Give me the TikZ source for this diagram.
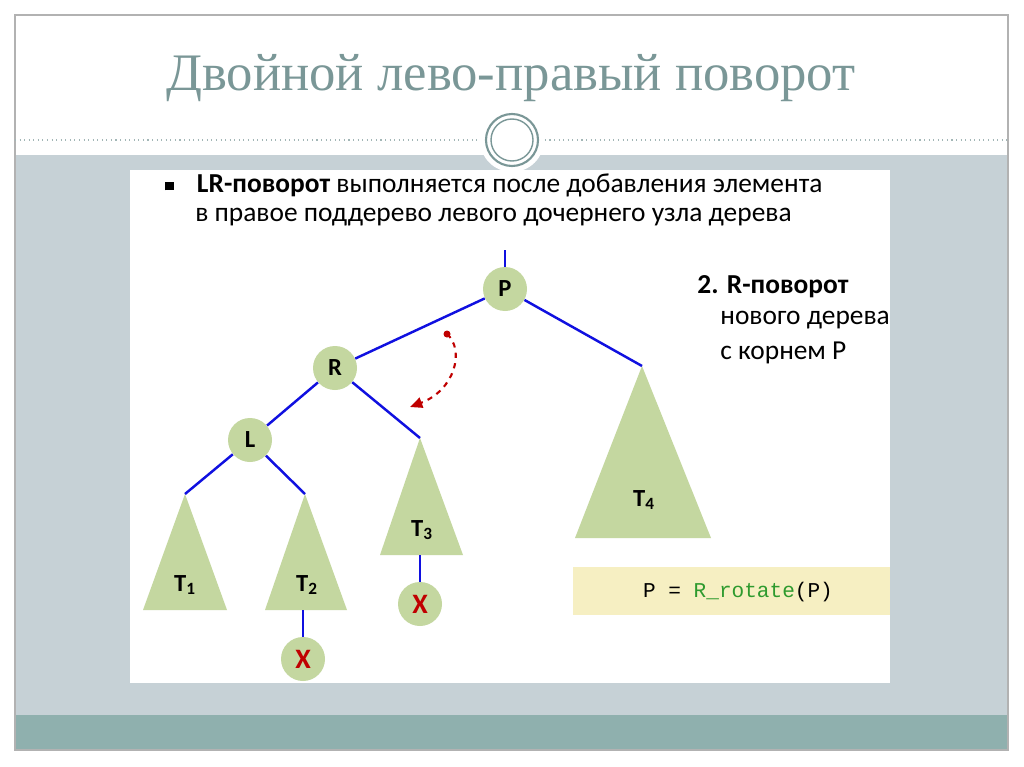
\documentclass[tikz,border=0pt]{standalone}
\usepackage{fontspec}
\setmainfont{Carlito}
\newfontfamily\titlefont{Liberation Serif}
\newfontfamily\codefont{Liberation Mono}
\usetikzlibrary{arrows.meta}
\definecolor{band}{HTML}{C6D1D6}
\definecolor{teal}{HTML}{8FB0AE}
\definecolor{titlec}{HTML}{7A9797}
\definecolor{leaf}{HTML}{C4D7A0}
\definecolor{edge}{HTML}{1010E0}
\definecolor{darkred}{HTML}{C00000}
\definecolor{codebg}{HTML}{F6EFC2}
\definecolor{codegreen}{HTML}{2E9A2E}
\begin{document}
\begin{tikzpicture}[x=0.02cm,y=-0.02cm,
  circ/.style={circle,fill=leaf,minimum size=44*0.02cm,inner sep=0pt,font=\fontsize{14}{16}\selectfont\bfseries},
  tri/.style={fill=leaf},
  lnk/.style={edge,line width=1.4pt},
  tlab/.style={font=\fontsize{14}{16}\selectfont\bfseries},
  body/.style={font=\fontsize{15.6}{18}\selectfont,anchor=west,inner sep=0pt}]
\useasboundingbox (0,0) rectangle (1024,767);
\fill[white] (0,0) rectangle (1024,767);
\fill[band] (15,155) rectangle (1008,715);
\fill[teal] (15,715) rectangle (1008,750);
\draw[gray!60,line width=0.8pt] (15,15) rectangle (1008,750);
\draw[titlec!70,dotted,line width=0.6pt] (15,140) -- (1008,140);
\node[font=\titlefont\fontsize{30}{34}\selectfont,text=titlec] (title) at (511,78) {Двойной лево-правый поворот};
\fill[white] (512,140) circle (32);
\draw[titlec,line width=1.2pt] (512,140) circle (26);
\draw[titlec,line width=0.8pt] (512,140) circle (21);
\fill[white] (130,170) rectangle (890,683);
% text
\node[body] (b1) at (165,185) {\rule[1pt]{5pt}{5pt}\hspace{13pt}\textbf{LR-поворот} выполняется после добавления элемента};
\node[body] (b2) at (195,217) {в правое поддерево левого дочернего узла дерева};
\node[body] (s1) at (697,287) {\textbf{2. R-поворот}};
\node[body] (s2) at (720,320) {нового дерева};
\node[body] (s3) at (720,353) {с корнем P};
% triangles
\coordinate (a1) at (185,494); \coordinate (a2) at (305,494);
\coordinate (a3) at (420,438); \coordinate (a4) at (642,366);
\fill[tri] (a1) -- (143,610) -- (227,610) -- cycle;
\fill[tri] (a2) -- (265,610) -- (347,610) -- cycle;
\fill[tri] (a3) -- (380,555) -- (463,555) -- cycle;
\fill[tri] (a4) -- (575,538) -- (711,538) -- cycle;
\node[tlab] (t1) at (185,585) {T\textsubscript{1}};
\node[tlab] (t2) at (307,585) {T\textsubscript{2}};
\node[tlab] (t3) at (422,530) {T\textsubscript{3}};
\node[tlab] (t4) at (644,500) {T\textsubscript{4}};
% nodes
\node[circ] (P) at (505,289) {P};
\node[circ] (R) at (335,368) {R};
\node[circ] (L) at (250,440) {L};
\node[circ,text=darkred,font=\fontsize{16}{18}\selectfont\bfseries] (X1) at (303,659) {X};
\node[circ,text=darkred,font=\fontsize{16}{18}\selectfont\bfseries] (X2) at (420,604) {X};
\coordinate (top) at (505,250);
\coordinate (b2c) at (303,610);
\coordinate (b3c) at (420,555);
\draw[lnk] (top) -- (P);
\draw[lnk] (P) -- (R);
\draw[lnk] (P) -- (a4);
\draw[lnk] (R) -- (L);
\draw[lnk] (R) -- (a3);
\draw[lnk] (L) -- (a1);
\draw[lnk] (L) -- (a2);
\draw[lnk] (b2c) -- (X1);
\draw[lnk] (b3c) -- (X2);
% red arrow
\coordinate (r0) at (447,334);
\coordinate (r1) at (410,407);
\fill[darkred] (r0) circle (3.5);
\draw[darkred,dashed,line width=1.2pt,-{Triangle[length=7pt,width=6pt]}] (r0) .. controls (465,350) and (455,390) .. (r1);
% code box
\fill[codebg] (573,567) rectangle (890,615);
\node[font=\codefont\fontsize{12}{14}\selectfont] (code) at (738,592) {P = \textcolor{codegreen}{R\_rotate}(P)};
\end{tikzpicture}
\end{document}
